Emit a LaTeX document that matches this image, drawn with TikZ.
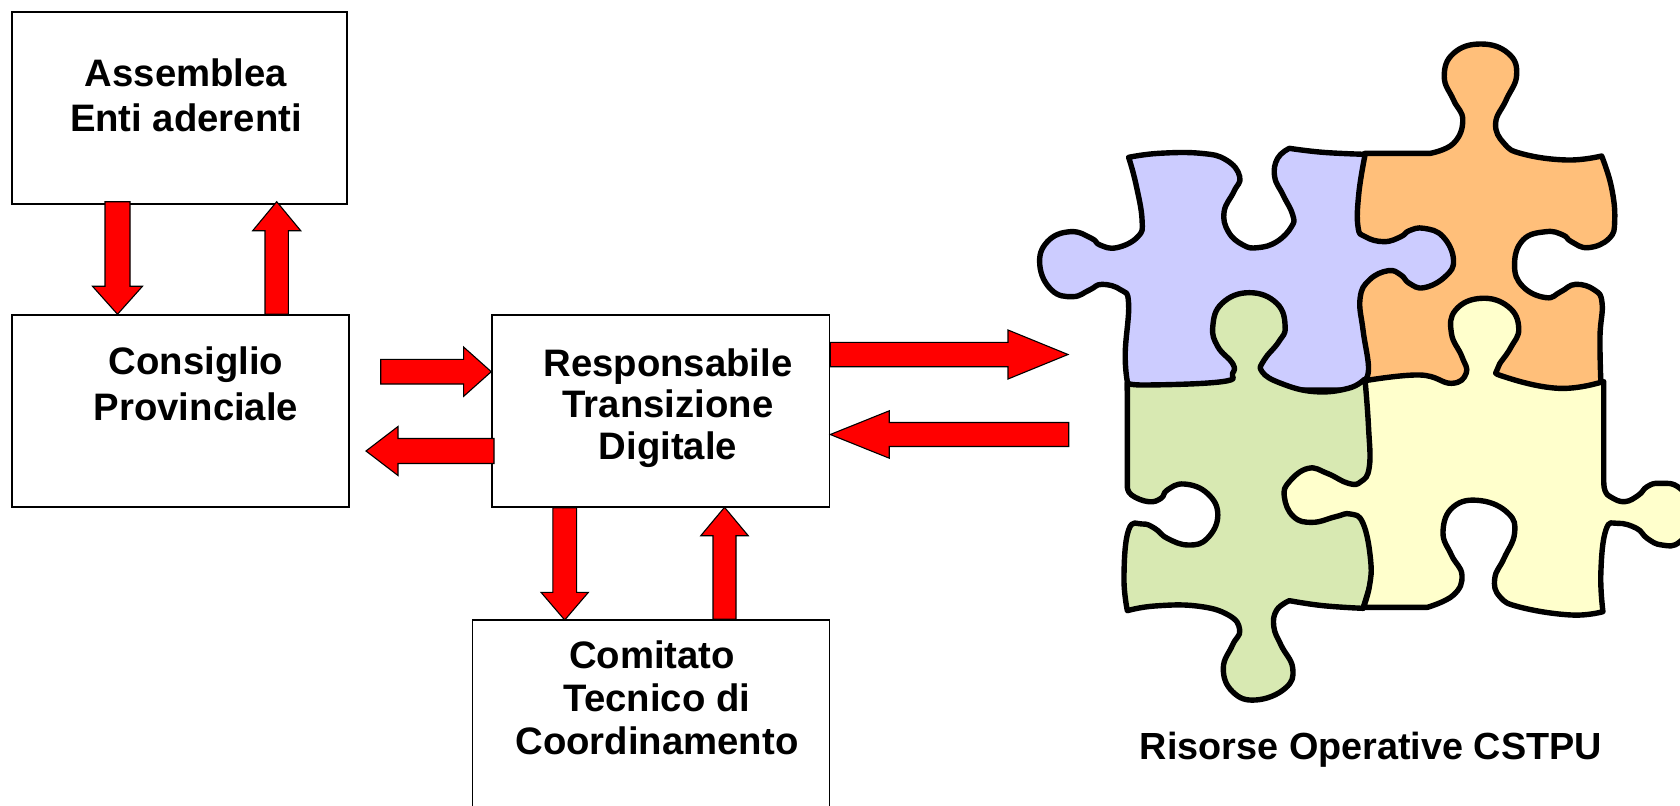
\documentclass[tikz,border=0pt]{standalone}
\usepackage{fontspec}
\setmainfont{Liberation Sans}
\usetikzlibrary{calc}
\definecolor{pzpurple}{HTML}{CCCCFF}
\definecolor{pzorange}{HTML}{FFBF7A}
\definecolor{pzgreen}{HTML}{D8E9B2}
\definecolor{pzyellow}{HTML}{FFFFCC}
\tikzset{
  boxn/.style={draw=black,line width=1.5pt,fill=white,inner sep=0pt},
  lbl/.style={font=\fontsize{38.3}{#1}\selectfont\bfseries,align=center,inner sep=0pt,text=black},
  redarrow/.style={draw=black,line width=1.1pt,fill=red,line join=miter},
  puzzle/.style={draw=black,line width=5.4pt,line join=round,line cap=round},
  pz/.style={smooth,tension=.75}
}
% from, to, half shaft, head length, half head
\newcommand{\blockarrow}[5]{%
  \coordinate (hh) at ($(#2)!#4!(#1)$);
  \draw[redarrow] ($(#1)!#3!90:(#2)$) -- ($(hh)!#3!90:(#2)$) -- ($(hh)!#5!90:(#2)$) -- (#2)
    -- ($(hh)!#5!-90:(#2)$) -- ($(hh)!#3!-90:(#2)$) -- ($(#1)!#3!-90:(#2)$) -- cycle;}
\begin{document}
\begin{tikzpicture}[x=1pt,y=-1pt]
\useasboundingbox (0,0) rectangle (1680,805.5);
\clip (0,0) rectangle (1680,805.5);
\fill[white] (0,0) rectangle (1680,805.5);

% boxes
\node[boxn,minimum width=335pt,minimum height=192pt] (assemblea) at (179.5,108) {};
\node[boxn,minimum width=337pt,minimum height=192pt] (consiglio) at (180.5,411) {};
\node[boxn,minimum width=337.5pt,minimum height=192pt] (resp) at (660.75,411) {};
\node[boxn,minimum width=357pt,minimum height=215pt] (comitato) at (651,727.5) {};

% labels
\node[lbl=45] (tassemblea) at (186,95) {Assemblea\\Enti aderenti};
\node[lbl=46] (tconsiglio) at (196,384) {Consiglio\\Provinciale};
\node[lbl=41.5] (tresp) at (668,408) {Responsabile\\Transizione\\Digitale};
\node[lbl=43] (tcomitato) at (657,697.5) {Comitato\hspace*{10pt}\\Tecnico di\\Coordinamento};
\node[lbl=45,font=\fontsize{37.8}{45}\selectfont\bfseries] (trisorse) at (1371,749.5) {Risorse Operative CSTPU};

% free ends / anchors of the block arrows
\coordinate (a1s) at (117.5,201.7);
\coordinate (a1e) at (consiglio.north -| a1s);
\coordinate (a2e) at (276.7,201.7);
\coordinate (a2s) at (consiglio.north -| a2e);
\coordinate (a3s) at (380.7,371.7);
\coordinate (a3e) at (resp.west |- a3s);
\coordinate (a4e) at (366,451);
\coordinate (a4s) at (494,451);
\coordinate (a5e) at (1068,354.5);
\coordinate (a5s) at (resp.east |- a5e);
\coordinate (a6s) at (1068.7,434.5);
\coordinate (a6e) at (resp.east |- a6s);
\coordinate (a7e) at (564.7,620);
\coordinate (a7s) at (resp.south -| a7e);
\coordinate (a8e) at (724.5,507.3);
\coordinate (a8s) at (comitato.north -| a8e);

\blockarrow{a1s}{a1e}{12.5pt}{28pt}{25pt}
\blockarrow{a2s}{a2e}{11.7pt}{29pt}{24pt}
\blockarrow{a3s}{a3e}{12.3pt}{27.7pt}{24.7pt}
\blockarrow{a4s}{a4e}{12.5pt}{32pt}{24.5pt}
\blockarrow{a5s}{a5e}{12.2pt}{60pt}{24.5pt}
\blockarrow{a6s}{a6e}{12pt}{59pt}{23.7pt}
\blockarrow{a7s}{a7e}{11.9pt}{27.7pt}{23.7pt}
\blockarrow{a8s}{a8e}{11.5pt}{28.4pt}{23.7pt}

% puzzle
\begin{scope}[shift={(1020,20)}]
\begin{scope}[x=0.42088pt,y=-0.33333pt]
% orange
\path[puzzle,fill=pzorange] plot[pz] coordinates {(820,400) (975,400)}
  -- plot[pz] coordinates {(975,400) (1030,370) (1052,300) (1030,240) (1008,170) (1030,100) (1095,72) (1160,100) (1180,165) (1155,240) (1130,310) (1150,370) (1195,402) (1300,420) (1382,408)}
  -- plot[pz] coordinates {(1382,408) (1405,500) (1413,600) (1400,655) (1350,683) (1310,665) (1290,645) (1250,635) (1195,660) (1175,735) (1195,800) (1250,833) (1285,815) (1320,793) (1365,810) (1383,850) (1378,950) (1380,1085)}
  -- (1370,1120) -- (790,1120) -- (790,420) -- cycle;
% purple
\path[puzzle,fill=pzpurple] plot[pz] coordinates {(258,412) (330,400) (430,400) (490,420) (522,470) (508,515) (485,575) (495,635) (530,675) (565,683) (610,665) (645,620) (648,585) (625,525) (605,470) (612,415) (640,385)}
  -- plot[pz] coordinates {(640,385) (720,397) (820,403)}
  -- plot[pz] coordinates {(820,403) (805,520) (803,620) (820,650) (865,665) (905,650) (925,632) (960,625) (1005,650) (1030,720) (1010,770) (960,803) (925,790) (905,765) (875,752) (830,780) (808,835) (815,930) (828,1040) (820,1080)}
  -- (820,1110) -- (255,1110) -- (255,1085)
  -- plot[pz] coordinates {(255,1085) (250,1000) (258,850) (240,810) (195,793) (165,810) (125,830) (75,810) (47,735) (65,665) (120,635) (170,655) (190,675) (230,683) (280,650) (290,600) (275,490) (258,412)}
  -- cycle;
\end{scope}
\end{scope}
\begin{scope}[shift={(1020,360)}]
\begin{scope}[x=0.42088pt,y=-0.33333pt]
% green
\path[puzzle,fill=pzgreen] plot[pz] coordinates {(255,68) (300,75) (480,65) (505,40) (505,10) (470,-40) (458,-100) (480,-170) (545,-202) (610,-170) (630,-100) (615,-55) (580,0) (575,35) (620,70) (700,95) (780,85) (818,58)}
  -- (850,200) -- (850,600) -- (815,745)
  -- plot[pz] coordinates {(815,745) (720,737) (640,722)}
  -- plot[pz] coordinates {(640,722) (610,750) (603,800) (620,855) (648,925) (630,985) (560,1020) (505,995) (483,925) (505,855) (522,810) (495,765) (420,738) (320,738) (255,752)}
  -- plot[pz] coordinates {(255,752) (247,650) (258,510) (290,492) (320,505) (350,535) (400,555) (445,535) (470,465) (445,400) (390,372) (350,390) (335,415) (305,425) (265,405) (255,380)}
  -- cycle;
% yellow
\path[puzzle,fill=pzyellow] plot[pz] coordinates {(820,62) (950,45) (1025,70) (1060,40) (1050,-10) (1025,-80) (1035,-150) (1095,-185) (1160,-160) (1185,-95) (1165,-35) (1135,25) (1150,50) (1280,85) (1385,65)}
  -- (1387,65) -- (1387,360)
  -- plot[pz] coordinates {(1387,360) (1390,392) (1405,412) (1437,425) (1470,405) (1490,380) (1520,370) (1568,385) (1610,465) (1568,545) (1525,555) (1490,535) (1465,505) (1420,490) (1392,510) (1380,640) (1385,755)}
  -- plot[pz] coordinates {(1385,755) (1310,765) (1190,742) (1140,710) (1128,655) (1150,595) (1175,520) (1160,460) (1095,422) (1030,440) (1005,515) (1025,585) (1050,645) (1030,705) (968,742)}
  -- (815,742)
  -- plot[pz] coordinates {(815,745) (830,680) (833,600) (815,490) (785,462) (750,470) (695,487) (650,470) (628,410) (640,365) (685,325) (730,340) (780,370) (810,365) (830,320) (828,200) (820,62)}
  -- cycle;
\end{scope}
\end{scope}
\end{tikzpicture}
\end{document}
